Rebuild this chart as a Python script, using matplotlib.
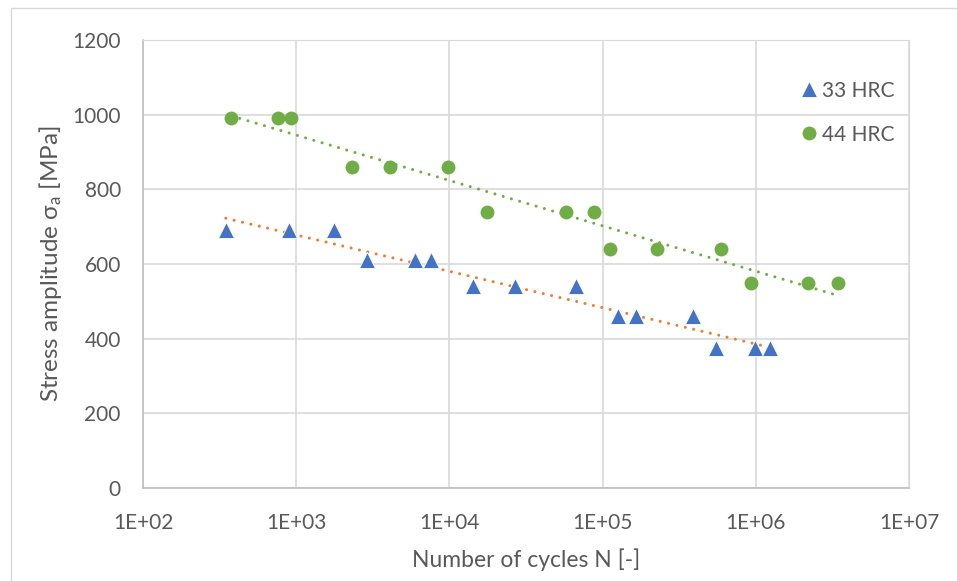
import numpy as np
import matplotlib.pyplot as plt
import matplotlib.patches as patches
from matplotlib.ticker import FixedLocator, FixedFormatter

plt.rcParams['font.family'] = ['Lato', 'DejaVu Sans']

# 33 HRC (triangles)
n_33 = [347, 896, 1760, 2880, 5930, 7570, 14300, 26700, 67100,
        126000, 164000, 388000, 551000, 993000, 1230000]
s_33 = [690, 690, 690, 610, 610, 610, 540, 540, 540,
        460, 460, 460, 375, 375, 375]

# 44 HRC (circles)
n_44 = [378, 760, 930, 2330, 4100, 9800, 17700, 57300, 87700,
        111000, 227000, 589000, 931000, 2180000, 3450000]
s_44 = [990, 990, 990, 860, 860, 860, 740, 740, 740,
        640, 640, 640, 550, 550, 550]

x_ticks = [1e2, 1e3, 1e4, 1e5, 1e6, 1e7]
x_labels = ['1E+02', '1E+03', '1E+04', '1E+05', '1E+06', '1E+07']
y_ticks = [0, 200, 400, 600, 800, 1000, 1200]

BLUE = '#4472C4'
GREEN = '#70AD47'
ORANGE = '#ED7D31'
TXT = '#595959'
GRID = '#D9D9D9'


def log_trend(n, s):
    # Excel-style logarithmic trendline over the data range
    n = np.asarray(n, float)
    a, b = np.polyfit(np.log(n), s, 1)
    xs = np.logspace(np.log10(n.min()), np.log10(n.max()), 100)
    return xs, a * np.log(xs) + b


fig = plt.figure(figsize=(9.57, 5.81), dpi=100)
ax = fig.add_axes([143 / 957, 1 - 488 / 581, 766 / 957, 448 / 581])

# chart area border
fig.patches.append(patches.Rectangle((10.5 / 957, -0.1), 1.2, (581 - 7.5) / 581 + 0.1,
                                     transform=fig.transFigure, fill=False,
                                     edgecolor=GRID, lw=1))

ax.set_xscale('log')
ax.set_xlim(1e2, 1e7)
ax.set_ylim(0, 1200)

xs, ys = log_trend(n_33, s_33)
ax.plot(xs, ys, color=ORANGE, lw=2.2, linestyle=(0, (0.01, 2.8)),
        dash_capstyle='round', zorder=3)
xs, ys = log_trend(n_44, s_44)
ax.plot(xs, ys, color=GREEN, lw=2.2, linestyle=(0, (0.01, 2.8)),
        dash_capstyle='round', zorder=3)

ax.plot(n_33, s_33, linestyle='none', marker='^', ms=11, color=BLUE,
        mec='white', mew=0.6, label='33 HRC', zorder=4)
ax.plot(n_44, s_44, linestyle='none', marker='o', ms=10, color=GREEN,
        mec=GREEN, mew=0, label='44 HRC', zorder=4)

ax.xaxis.set_major_locator(FixedLocator(x_ticks))
ax.xaxis.set_major_formatter(FixedFormatter(x_labels))
ax.xaxis.set_minor_locator(FixedLocator([]))
ax.set_yticks(y_ticks)

ax.grid(True, color=GRID, lw=1.2)
ax.set_axisbelow(True)
for side in ['top', 'right']:
    ax.spines[side].set_color(GRID)
for side in ['left', 'bottom']:
    ax.spines[side].set_color('#BFBFBF')
    ax.spines[side].set_linewidth(1.2)
ax.tick_params(length=0, labelsize=15, labelcolor=TXT)
ax.tick_params(axis='y', pad=16)
ax.tick_params(axis='x', pad=18)

ax.set_xlabel('Number of cycles N [-]', fontsize=16.5, color=TXT, labelpad=11)
ax.set_ylabel(r'Stress amplitude $\mathregular{\sigma_a}$ [MPa]', fontsize=17.5,
              color=TXT, labelpad=6)

leg = ax.legend(loc='upper right', bbox_to_anchor=(1.0, 0.942), frameon=False,
                fontsize=15, handlelength=0.6, handletextpad=0.3,
                labelspacing=1.15, borderaxespad=0.3)
for t in leg.get_texts():
    t.set_color(TXT)

fig.savefig('out.png', dpi=100)
